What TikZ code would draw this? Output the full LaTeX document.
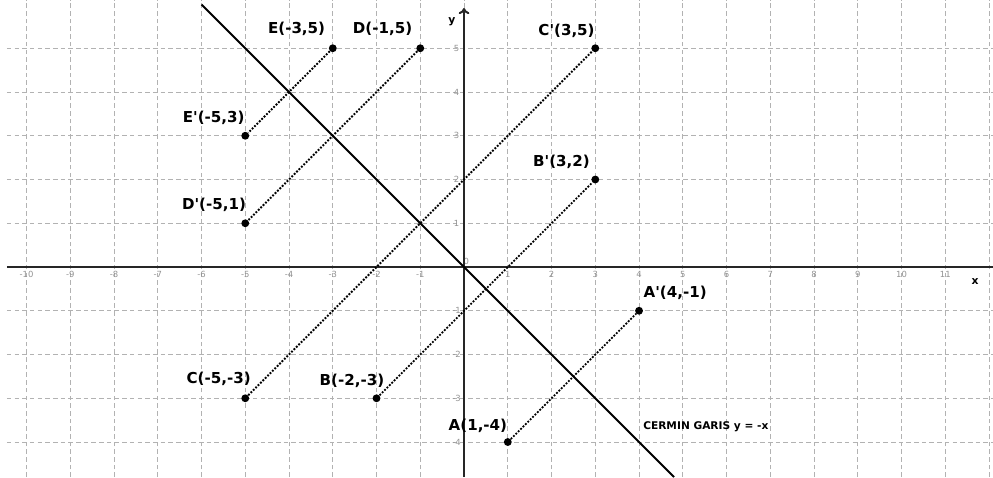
\documentclass[tikz,border=0pt]{standalone}
\usepackage{fontspec}
\setmainfont{DejaVu Sans}
\usetikzlibrary{arrows.meta, positioning}

\begin{document}
\begin{tikzpicture}[
  gridline/.style={gray!60, line width=0.6pt, dash pattern=on 3pt off 2pt},
  axis/.style={line width=1.3pt, black!85},
  ticklbl/.style={font=\fontsize{5.5}{6}\selectfont, text=gray!85, inner sep=0pt},
  axlbl/.style={font=\fontsize{7}{8}\selectfont\bfseries, inner sep=0pt},
  pt/.style={circle, fill=black, inner sep=0pt, minimum size=0.18cm},
  ptlbl/.style={font=\fontsize{9.8}{11}\selectfont\bfseries, inner sep=0pt},
  imgline/.style={densely dotted, line width=1.2pt},
  mirror/.style={line width=1.3pt}
]
\useasboundingbox (-10.606,-4.8) rectangle (12.09,6.103);
\begin{scope}
\clip (-10.606,-4.8) rectangle (12.09,6.103);
\foreach \x in {-10,...,12} \draw[gridline] (\x,-4.8) -- (\x,6.103);
\foreach \y in {-4,...,5} \draw[gridline] (-10.45,\y) -- (12.09,\y);
\end{scope}

\foreach \x in {-10,...,-1,1,2,...,11} \node[ticklbl] (xt\x) at (\x,-0.17) {\x};
\foreach \y in {-4,...,-1,1,2,...,5} \node[ticklbl] (yt\y) at (-0.17,\y) {\y};
\node[ticklbl] (yt0) at (0.05,0.12) {0};

\coordinate (xl) at (-10.45,0);
\coordinate (xr) at (12.09,0);
\coordinate (yb) at (0,-4.8);
\coordinate (yt) at (0,5.92);
\draw[axis] (xl) -- (xr);
\draw[axis, -{To[length=4pt,width=7pt]}] (yb) -- (yt);
\node[axlbl] (xlab) at (11.68,-0.34) {x};
\node[axlbl] (ylab) at (-0.28,5.61) {y};

\coordinate (m1) at (-6,6);
\coordinate (m2) at (4.8,-4.8);
\draw[mirror] (m1) -- (m2);
\node[font=\fontsize{6.9}{8}\selectfont\bfseries, anchor=west, inner sep=0pt] (mlab) at (4.09,-3.66) {CERMIN GARIS y = -x};

\node[pt] (A) at (1,-4) {};
\node[pt] (B) at (-2,-3) {};
\node[pt] (C) at (-5,-3) {};
\node[pt] (D) at (-1,5) {};
\node[pt] (E) at (-3,5) {};
\node[pt] (Ap) at (4,-1) {};
\node[pt] (Bp) at (3,2) {};
\node[pt] (Cp) at (3,5) {};
\node[pt] (Dp) at (-5,1) {};
\node[pt] (Ep) at (-5,3) {};

\draw[imgline] (A) -- (Ap);
\draw[imgline] (B) -- (Bp);
\draw[imgline] (C) -- (Cp);
\draw[imgline] (D) -- (Dp);
\draw[imgline] (E) -- (Ep);

\node[ptlbl, above left=0.15cm and -0.06cm of A] (Alab) {A(1,-4)};
\node[ptlbl, above left=0.17cm and -0.25cm of B] (Blab) {B(-2,-3)};
\node[ptlbl, above left=0.21cm and -0.20cm of C] (Clab) {C(-5,-3)};
\node[ptlbl, above left=0.21cm and 0.11cm of D] (Dlab) {D(-1,5)};
\node[ptlbl, above left=0.21cm and 0.10cm of E] (Elab) {E(-3,5)};
\node[ptlbl, above right=0.19cm and 0.03cm of Ap] (Aplab) {A\textquotesingle(4,-1)};
\node[ptlbl, above left=0.18cm and 0.05cm of Bp] (Bplab) {B\textquotesingle(3,2)};
\node[ptlbl, above left=0.16cm and -0.06cm of Cp] (Cplab) {C\textquotesingle(3,5)};
\node[ptlbl, above left=0.18cm and -0.09cm of Dp] (Dplab) {D\textquotesingle(-5,1)};
\node[ptlbl, above left=0.17cm and -0.06cm of Ep] (Eplab) {E\textquotesingle(-5,3)};
\end{tikzpicture}
\end{document}
